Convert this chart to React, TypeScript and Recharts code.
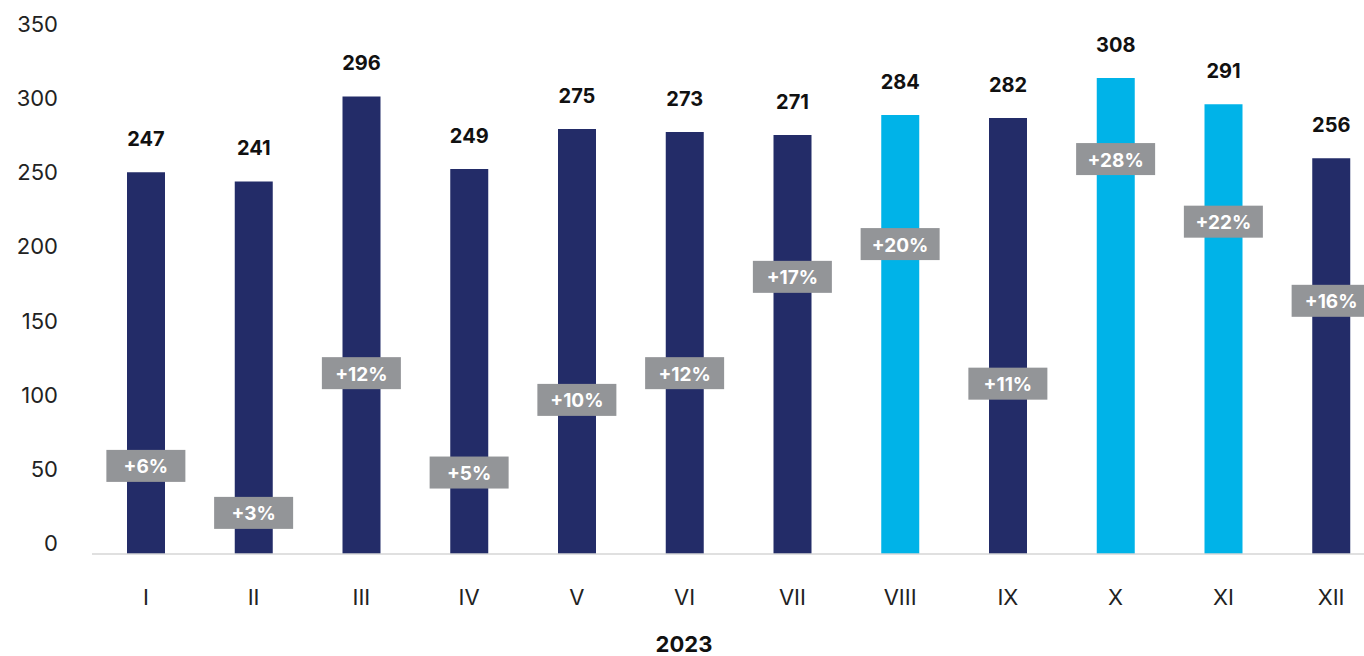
import { ComposedChart, Bar, Line, XAxis, YAxis, Cell, LabelList } from 'recharts';

// months of 2023
const months: string[] = ['I', 'II', 'III', 'IV', 'V', 'VI', 'VII', 'VIII', 'IX', 'X', 'XI', 'XII'];

// monthly totals
const totals: number[] = [247, 241, 296, 249, 275, 273, 271, 284, 282, 308, 291, 256];

// year-on-year growth labels
const growthLabels: string[] = ['+6%', '+3%', '+12%', '+5%', '+10%', '+12%', '+17%', '+20%', '+11%', '+28%', '+22%', '+16%'];

// hidden growth series (where the grey boxes sit, in bar units)
const growthLevel: number[] = [57, 26.6, 117, 52.7, 99.7, 117, 179.3, 200.5, 110.2, 255.5, 215, 163.8];

// months drawn in light blue
const highlighted: string[] = ['VIII', 'X', 'XI'];

const yTicks: number[] = [0, 50, 100, 150, 200, 250, 300, 350];

const NAVY = '#232c68';
const CYAN = '#00b3e8';
const GREY_BOX = '#939598';
const FONT = 'Inter, "Open Sans", sans-serif';

const data = months.map((m, i) => ({
  month: m,
  total: totals[i],
  growth: growthLevel[i],
  growthLabel: growthLabels[i],
}));

const ValueLabel = (props: any) => {
  const { x, y, width, value } = props;
  return (
    <text
      x={x + width / 2}
      y={y - 33}
      textAnchor="middle"
      dominantBaseline="central"
      fontFamily={FONT}
      fontWeight={700}
      fontSize={20}
      fill="#111"
    >
      {value}
    </text>
  );
};

const GrowthBox = (props: any) => {
  const { x, y, index } = props;
  return (
    <g>
      <rect x={x - 39.5} y={y - 16} width={79} height={32} fill={GREY_BOX} />
      <text
        x={x}
        y={y + 1}
        textAnchor="middle"
        dominantBaseline="central"
        fontFamily={FONT}
        fontWeight={700}
        fontSize={19}
        fill="#fff"
      >
        {growthLabels[index]}
      </text>
    </g>
  );
};

const App = () => {
  return (
    <div style={{ position: 'absolute', left: 0, top: 0, width: 1364, height: 656, overflow: 'hidden', background: '#fff' }}>
      <ComposedChart width={1385} height={656} data={data} margin={{ top: 13, right: 0, bottom: 60, left: 0 }}>
        <XAxis
          dataKey="month"
          axisLine={{ stroke: '#d6d6d6', strokeWidth: 1.5 }}
          tickLine={false}
          tickSize={0}
          tickMargin={35}
          height={42}
          interval={0}
          tick={{ fontFamily: FONT, fontSize: 22, fill: '#222' }}
        />
        <YAxis
          yAxisId="ticks"
          type="number"
          domain={[-7.2, 357.4]}
          ticks={yTicks}
          allowDataOverflow
          width={92}
          axisLine={false}
          tickLine={false}
          tickSize={0}
          tickMargin={34}
          tick={{ fontFamily: FONT, fontSize: 22, fill: '#222' }}
        />
        <YAxis yAxisId="v" type="number" domain={[0, 350]} hide />
        <Bar yAxisId="v" dataKey="total" barSize={38} isAnimationActive={false}>
          {data.map((d) => (
            <Cell key={d.month} fill={highlighted.includes(d.month) ? CYAN : NAVY} />
          ))}
          <LabelList dataKey="total" content={ValueLabel} />
        </Bar>
        <Line
          yAxisId="v"
          dataKey="growth"
          stroke="none"
          dot={false}
          activeDot={false}
          isAnimationActive={false}
        >
          <LabelList dataKey="growthLabel" content={GrowthBox} />
        </Line>
      </ComposedChart>
      <div
        style={{
          position: 'absolute',
          left: 0,
          width: 1364,
          top: 633,
          height: 22,
          textAlign: 'center',
          fontFamily: FONT,
          fontWeight: 700,
          fontSize: 22,
          lineHeight: '22px',
          color: '#111',
          paddingLeft: 4,
          boxSizing: 'border-box',
        }}
      >
        2023
      </div>
    </div>
  );
};

export default App;
